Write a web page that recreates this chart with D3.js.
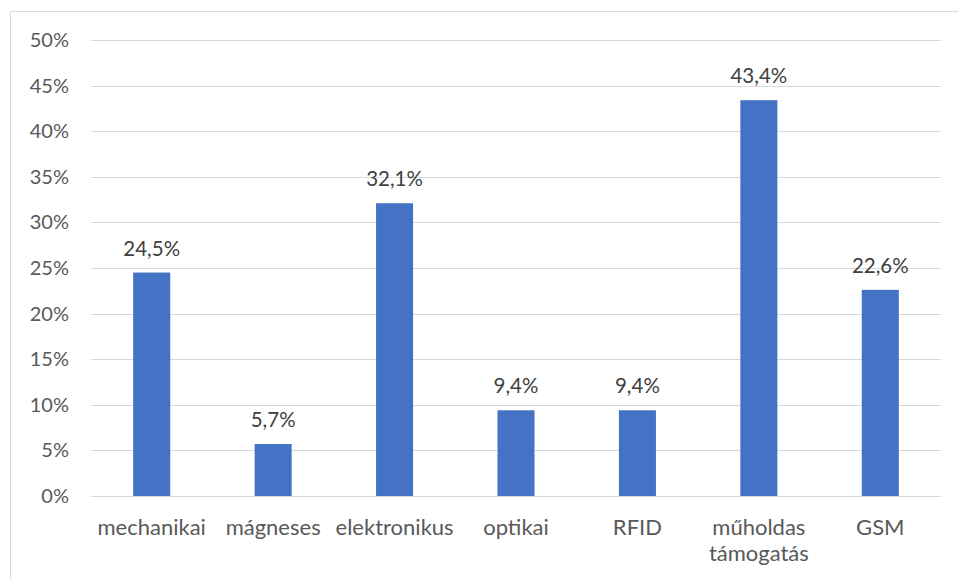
<!DOCTYPE html>
<html>
<head>
<meta charset="utf-8">
<script src="https://cdn.jsdelivr.net/npm/d3@7"></script>
<style>
  html, body { margin: 0; padding: 0; background: #fff; }
  svg { display: block; }
  text { font-family: Lato, "Open Sans", sans-serif; }
</style>
</head>
<body>
<svg id="chart" width="958" height="579"></svg>
<script>
// Share of each tracking technology (%)
const categories = ["mechanikai", "mágneses", "elektronikus", "optikai", "RFID", "műholdas támogatás", "GSM"];
const values = [24.5, 5.7, 32.1, 9.4, 9.4, 43.4, 22.6];
const yTicks = [0, 5, 10, 15, 20, 25, 30, 35, 40, 45, 50];

const svg = d3.select("#chart");
const W = 958, H = 579;
const plot = { left: 91, right: 941, top: 40, bottom: 496 };

// Chart frame (top and left edges visible)
svg.append("path")
  .attr("d", `M10.5,${H} L10.5,11.5 L${W},11.5`)
  .attr("fill", "none")
  .attr("stroke", "#d9d9d9")
  .attr("stroke-width", 1);

const x = d3.scaleBand()
  .domain(categories)
  .range([plot.left, plot.right])
  .paddingInner(0)
  .paddingOuter(0);

const y = d3.scaleLinear()
  .domain([0, 50])
  .range([plot.bottom, plot.top]);

const barW = x.bandwidth() * 0.305;

// Horizontal gridlines
svg.append("g")
  .selectAll("line")
  .data(yTicks)
  .join("line")
  .attr("x1", plot.left)
  .attr("x2", plot.right)
  .attr("y1", d => Math.round(y(d)) + 0.5)
  .attr("y2", d => Math.round(y(d)) + 0.5)
  .attr("stroke", "#d9d9d9")
  .attr("stroke-width", 1.2);

// Y axis labels
const yAxis = d3.axisLeft(y)
  .tickValues(yTicks)
  .tickFormat(d => d + "%")
  .tickSize(0)
  .tickPadding(0);
const gy = svg.append("g")
  .attr("transform", "translate(69,0)")
  .call(yAxis);
gy.select(".domain").remove();
gy.selectAll("text")
  .attr("fill", "#595959")
  .attr("font-size", "20px")
  .attr("font-family", "Lato, 'Open Sans', sans-serif");

// Bars
svg.append("g")
  .selectAll("rect")
  .data(values)
  .join("rect")
  .attr("x", (d, i) => x(categories[i]) + (x.bandwidth() - barW) / 2)
  .attr("y", d => y(d))
  .attr("width", barW)
  .attr("height", d => y(0) - y(d))
  .attr("fill", "#4472c4");

// Value labels
svg.append("g")
  .selectAll("text")
  .data(values)
  .join("text")
  .attr("x", (d, i) => x(categories[i]) + x.bandwidth() / 2)
  .attr("y", d => y(d) - 17)
  .attr("text-anchor", "middle")
  .attr("fill", "#404040")
  .attr("font-size", "20.5px")
  .text(d => d.toFixed(1).replace(".", ",") + "%");

// Category labels (wrapped on spaces when too wide)
const xAxis = d3.axisBottom(x).tickSize(0).tickPadding(0);
const gx = svg.append("g")
  .attr("transform", `translate(0,${plot.bottom})`)
  .call(xAxis);
gx.select(".domain").remove();
gx.selectAll("text")
  .attr("fill", "#595959")
  .attr("font-size", "22px")
  .attr("font-family", "Lato, 'Open Sans', sans-serif")
  .attr("dy", null)
  .attr("y", 0)
  .each(function(d) {
    const t = d3.select(this);
    const words = d.split(" ");
    t.text(null);
    if (words.length > 1 && d.length > 12) {
      words.forEach((w, k) => {
        t.append("tspan").attr("x", 0).attr("y", 39 + k * 26).text(w);
      });
    } else {
      t.append("tspan").attr("x", 0).attr("y", 39).text(d);
    }
  });
</script>
</body>
</html>
